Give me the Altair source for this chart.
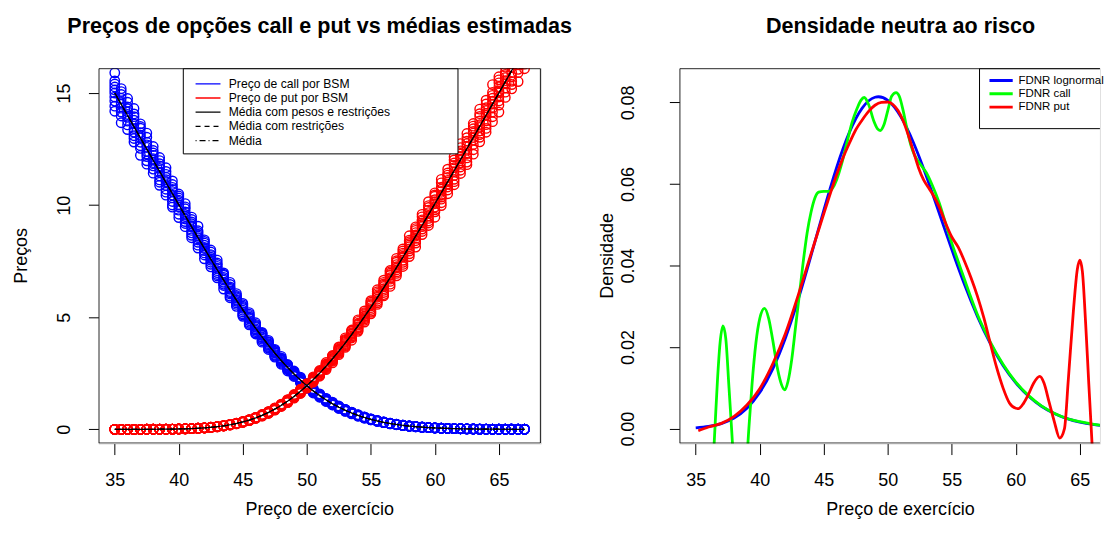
import altair as alt
import pandas as pd

FONT = "Liberation Sans"

# ---------------- data (left panel) ----------------
strikes = [35.0, 35.5, 36.0, 36.5, 37.0, 37.5, 38.0, 38.5, 39.0, 39.5, 40.0, 40.5,
           41.0, 41.5, 42.0, 42.5, 43.0, 43.5, 44.0, 44.5, 45.0, 45.5, 46.0, 46.5,
           47.0, 47.5, 48.0, 48.5, 49.0, 49.5, 50.0, 50.5, 51.0, 51.5, 52.0, 52.5,
           53.0, 53.5, 54.0, 54.5, 55.0, 55.5, 56.0, 56.5, 57.0, 57.5, 58.0, 58.5,
           59.0, 59.5, 60.0, 60.5, 61.0, 61.5, 62.0, 62.5, 63.0, 63.5, 64.0, 64.5,
           65.0, 65.5, 66.0, 66.5, 67.0]

call_prices = [15.000, 14.500, 14.000, 13.501, 13.001, 12.502, 12.003, 11.505, 11.008, 10.511,
               10.016, 9.524, 9.034, 8.548, 8.065, 7.589, 7.119, 6.657, 6.203, 5.761,
               5.329, 4.911, 4.509, 4.123, 3.753, 3.403, 3.070, 2.758, 2.467, 2.196,
               1.945, 1.715, 1.505, 1.313, 1.142, 0.988, 0.850, 0.728, 0.620, 0.526,
               0.444, 0.373, 0.312, 0.260, 0.216, 0.178, 0.146, 0.119, 0.097, 0.079,
               0.063, 0.051, 0.040, 0.032, 0.025, 0.020, 0.016, 0.012, 0.009, 0.007,
               0.005, 0.004, 0.003, 0.002, 0.002]

put_prices = [0.000, 0.000, 0.000, 0.001, 0.001, 0.002, 0.003, 0.005, 0.008, 0.011,
              0.016, 0.024, 0.034, 0.048, 0.065, 0.089, 0.119, 0.157, 0.203, 0.261,
              0.329, 0.411, 0.509, 0.623, 0.753, 0.903, 1.070, 1.258, 1.467, 1.696,
              1.945, 2.215, 2.505, 2.813, 3.142, 3.488, 3.850, 4.228, 4.620, 5.026,
              5.444, 5.873, 6.312, 6.760, 7.216, 7.678, 8.146, 8.619, 9.097, 9.579,
              10.063, 10.551, 11.040, 11.532, 12.025, 12.520, 13.016, 13.512, 14.009, 14.507,
              15.005, 15.504, 16.003, 16.502, 17.002]

noise_rows = [
    [-0.9, -0.4, 0.0, 0.3, 0.6, 1.0, -0.65, 0.15, 0.45, -0.2],
    [-0.6, -0.2, 0.1, 0.5, 0.8, -0.95, 0.3, -0.4, 0.65, 0.0],
    [-0.3, 0.2, 0.45, -0.75, 0.9, 0.05, -0.5, 0.7, -0.1, 0.35],
    [0.7, -0.5, -0.1, 0.35, -0.85, 0.15, 0.55, -0.3, 1.0, -0.65],
    [-1.0, 0.55, -0.25, 0.8, 0.0, -0.6, 0.3, -0.45, 0.15, 0.65],
    [0.4, -0.7, 0.95, -0.15, 0.25, -0.45, 0.7, -0.9, 0.1, -0.3],
    [-0.8, 0.1, 0.6, -0.35, 0.85, 0.3, -0.55, 0.45, -0.15, 0.0],
    [0.2, -0.9, 0.5, -0.05, 0.7, -0.55, 0.35, -0.3, 0.9, -0.7],
    [-0.45, 0.75, -0.65, 0.35, 1.0, -0.2, 0.05, -0.85, 0.55, 0.2],
    [0.9, -0.3, 0.15, -0.8, 0.45, -0.1, -0.55, 0.65, 0.3, -0.95],
    [-0.15, 0.65, -0.95, 0.25, -0.4, 0.8, 0.5, -0.7, 0.0, 0.35],
    [0.55, -0.6, 0.3, 0.95, -0.25, -0.85, 0.1, 0.7, -0.45, -0.05],
    [-0.7, 0.0, 0.8, -0.5, 0.4, 0.1, -0.3, 0.6, -0.9, 0.25],
]
noise_amp = 0.06

estimators = ["Média com pesos e restrições", "Média com restrições", "Média"]

# ---------------- data (right panel) ----------------
dens_x = [35, 36, 37, 38, 39, 40, 41, 42, 43, 44, 45, 46, 47, 48, 49, 50, 51,
          52, 53, 54, 55, 56, 57, 58, 59, 60, 61, 62, 63, 64, 65, 66, 67]
fdnr_lognormal = [0.00021, 0.00054, 0.00124, 0.00261, 0.00501, 0.00887, 0.01454, 0.02217,
                  0.03163, 0.04237, 0.05351, 0.06399, 0.07265, 0.07861, 0.08126, 0.08050,
                  0.07659, 0.07017, 0.06203, 0.05301, 0.04390, 0.03527, 0.02754, 0.02094,
                  0.01552, 0.01124, 0.00795, 0.00550, 0.00373, 0.00248, 0.00162, 0.00104,
                  0.00066]

fdnr_call_x = [35.0, 35.6, 36.0, 36.3, 36.5, 36.7, 36.9, 37.13, 37.35, 37.6, 37.8, 38.0,
               38.5, 38.9, 39.15, 39.4, 39.7, 40.0, 40.37, 40.7, 41.0, 41.4, 41.7, 41.96,
               42.2, 42.5, 42.8, 43.1, 43.4, 43.7, 44.0, 44.3, 44.6, 45.0, 45.4, 45.7,
               46.0, 46.4, 46.8, 47.2, 47.6, 47.9, 48.16, 48.5, 48.9, 49.2, 49.41, 49.7,
               50.0, 50.3, 50.65, 50.9, 51.2, 51.5, 51.8, 52.1, 52.5, 53.0, 53.5, 54.0,
               54.5, 55.0, 55.5, 56.0, 57.0, 58.0, 59.0, 60.0, 61.0, 62.0, 63.0, 64.0,
               65.0, 66.0, 67.0]
fdnr_call_y = [-0.09, -0.05, -0.03, -0.012, 0.0, 0.012, 0.021, 0.0252, 0.022, 0.010, 0.0, -0.010,
               -0.022, -0.012, 0.0, 0.011, 0.021, 0.027, 0.0295, 0.027, 0.022, 0.0145, 0.0108, 0.0095,
               0.0115, 0.017, 0.025, 0.033, 0.041, 0.048, 0.053, 0.0565, 0.058, 0.0582, 0.0582, 0.059,
               0.061, 0.065, 0.070, 0.075, 0.0785, 0.0805, 0.0812, 0.0795, 0.0755, 0.0735, 0.0731, 0.0745,
               0.078, 0.0815, 0.0824, 0.0815, 0.078, 0.0735, 0.0695, 0.067, 0.065, 0.0628, 0.0595, 0.0555,
               0.0505, 0.0455, 0.041, 0.0365, 0.0280, 0.0213, 0.0158, 0.0114, 0.0081, 0.0056, 0.0038, 0.0025,
               0.0017, 0.0011, 0.0007]

fdnr_put_x = [35.2, 36.0, 37.0, 38.0, 39.0, 40.0, 41.0, 42.0, 43.0, 44.0, 45.0, 46.0,
              46.5, 47.0, 47.5, 48.0, 48.5, 49.0, 49.5, 50.0, 50.4, 50.8, 51.2, 51.6,
              52.0, 52.4, 52.8, 53.2, 53.6, 54.0, 54.5, 55.0, 55.5, 56.0, 56.5, 57.0,
              57.5, 58.0, 58.5, 59.0, 59.5, 60.0, 60.2, 60.6, 61.0, 61.4, 61.87, 62.2,
              62.6, 63.0, 63.43, 63.8, 64.1, 64.5, 64.8, 65.0, 65.2, 65.45, 65.7, 65.95,
              66.2, 67.0]
fdnr_put_y = [-0.0005, 0.0004, 0.0013, 0.0030, 0.0058, 0.0098, 0.0158, 0.0233, 0.0327, 0.0428, 0.0527, 0.0622,
              0.0664, 0.0700, 0.0733, 0.0757, 0.0778, 0.0793, 0.0800, 0.0801, 0.0795, 0.0780, 0.0755, 0.0720,
              0.0680, 0.0640, 0.0610, 0.0590, 0.0570, 0.0545, 0.0505, 0.0470, 0.0445, 0.0410, 0.0370, 0.0325,
              0.0272, 0.0210, 0.0150, 0.0100, 0.0063, 0.0050, 0.0049, 0.0062, 0.0085, 0.0112, 0.0128, 0.0112,
              0.0065, 0.0018, -0.0023, 0.0000, 0.0120, 0.0290, 0.0390, 0.0413, 0.0385, 0.0260, 0.0110, -0.0035,
              -0.020, -0.070]

legend_left_labels = ["Preço de call por BSM", "Preço de put por BSM",
                      "Média com pesos e restrições", "Média com restrições", "Média"]
legend_left_colors = ["#0000FF", "#FF0000", "#000000", "#000000", "#000000"]
legend_left_dashes = [[1, 0], [1, 0], [1, 0], [5, 4], [1, 3, 6, 3]]

legend_right_labels = ["FDNR lognormal", "FDNR call", "FDNR put"]
legend_right_colors = ["#0000FF", "#00FF00", "#FF0000"]

title_left = "Preços de opções call e put vs médias estimadas"
title_right = "Densidade neutra ao risco"
xlabel = "Preço de exercício"
ylabel_left = "Preços"
ylabel_right = "Densidade"

# ---------------- tables ----------------
rows = []
for side, prices, shift in (("call", call_prices, 0), ("put", put_prices, 6)):
    for i, k in enumerate(strikes):
        for d in noise_rows[(i + shift) % len(noise_rows)]:
            rows.append({"k": k, "preco": prices[i] * (1 + noise_amp * d), "tipo": side})
scatter = pd.DataFrame(rows)

mean_rows = []
for est in estimators:
    for side, prices in (("call", call_prices), ("put", put_prices)):
        for k, p in zip(strikes, prices):
            mean_rows.append({"k": k, "preco": p, "est": est, "lado": side})
means = pd.DataFrame(mean_rows)

dens_log = pd.DataFrame({"k": dens_x, "d": fdnr_lognormal})
dens_call = pd.DataFrame({"k": fdnr_call_x, "d": fdnr_call_y})
dens_put = pd.DataFrame({"k": fdnr_put_x, "d": fdnr_put_y})

one = pd.DataFrame({"u": [0]})

# ---------------- layout ----------------
PW = 444          # full R plot-region width (px)
PW_R = 422        # visible part of the right panel (the original is cut at the image edge)
PH = 376.7
PXU = 12.847      # px per strike unit
XDOM = [33.72, 68.28]
XDOM_R = [33.72, 33.72 + PW_R / PXU]


def x_axis():
    return alt.Axis(values=[35, 40, 45, 50, 55, 60, 65], title=None,
                    grid=False, domain=False, tickSize=11, tickColor="black", tickWidth=1,
                    labelPadding=31.3, labelBaseline="alphabetic", labelFontSize=18,
                    labelFont=FONT, labelColor="black", labelFlush=False, labelOverlap=False)


def y_axis(values, fmt, pad):
    return alt.Axis(values=values, title=None, format=fmt,
                    grid=False, domain=False, tickSize=10, tickColor="black", tickWidth=1,
                    labelAngle=270, labelAlign="center", labelBaseline="alphabetic",
                    labelPadding=pad, labelFontSize=18, labelFont=FONT, labelColor="black",
                    labelFlush=False, labelOverlap=False)


def frame_layers(title, ytitle, ytitle_x, x2):
    return [
        alt.Chart(one).mark_rect(fillOpacity=0, stroke="black", strokeWidth=1, clip=True).encode(
            x=alt.value(0.5), x2=alt.value(x2), y=alt.value(0.5), y2=alt.value(PH - 0.5)),
        alt.Chart(one).mark_text(text=title, font=FONT, fontSize=21.6, fontWeight="bold",
                                 align="center", baseline="alphabetic", color="black").encode(
            x=alt.value(PW / 2), y=alt.value(-35.3)),
        alt.Chart(one).mark_text(text=xlabel, font=FONT, fontSize=18,
                                 align="center", baseline="alphabetic", color="black").encode(
            x=alt.value(PW / 2), y=alt.value(PH + 72)),
        alt.Chart(one).mark_text(text=ytitle, font=FONT, fontSize=18, angle=270,
                                 align="center", baseline="alphabetic", color="black").encode(
            x=alt.value(ytitle_x), y=alt.value(PH / 2)),
    ]


def legend_layers(labels, colors, dashes, box, y0, dy, lx, tx, fsize, lw):
    layers = [alt.Chart(one).mark_rect(fill="white", stroke="black", strokeWidth=1,
                                       clip=True).encode(
        x=alt.value(box[0]), x2=alt.value(box[1]), y=alt.value(box[2]), y2=alt.value(box[3]))]
    for i, lab in enumerate(labels):
        yy = y0 + i * dy
        layers.append(alt.Chart(one).mark_rule(color=colors[i], strokeWidth=lw,
                                               strokeDash=dashes[i]).encode(
            x=alt.value(lx[0]), x2=alt.value(lx[1]), y=alt.value(yy)))
        layers.append(alt.Chart(one).mark_text(text=lab, align="left", baseline="middle",
                                               font=FONT, fontSize=fsize, color="black").encode(
            x=alt.value(tx), y=alt.value(yy)))
    return layers


# ---------------- left panel ----------------
xl = alt.X("k:Q", scale=alt.Scale(domain=XDOM, nice=False, zero=False), axis=x_axis())
yl = alt.Y("preco:Q", scale=alt.Scale(domain=[-0.636, 16.11], nice=False, zero=False),
           axis=y_axis([0, 5, 10, 15], "d", 19))

pts = alt.Chart(scatter).mark_point(shape="circle", filled=False, size=90, strokeWidth=1.4,
                                    opacity=1, clip=True).encode(
    x=xl, y=yl,
    color=alt.Color("tipo:N", scale=alt.Scale(domain=["call", "put"], range=["#0000FF", "#FF0000"]),
                    legend=None))
lines = alt.Chart(means).mark_line(color="black", strokeWidth=1.2, clip=True).encode(
    x=xl, y=yl, detail="lado:N",
    strokeDash=alt.StrokeDash("est:N", scale=alt.Scale(domain=estimators,
                                                       range=[[1, 0], [5, 4], [1, 3, 6, 3]]),
                              legend=None))

left = alt.layer(
    pts, lines,
    *legend_layers(legend_left_labels, legend_left_colors, legend_left_dashes,
                   [85.2, 360.8, 0.5, 86], 15.7, 14.25, [97.5, 122.5], 130.8, 12.2, 1.3),
    *frame_layers(title_left, ylabel_left, -71.8, PW - 0.5)
).properties(width=PW, height=PH)

# ---------------- right panel ----------------
xr = alt.X("k:Q", scale=alt.Scale(domain=XDOM_R, nice=False, zero=False), axis=x_axis())
yr = alt.Y("d:Q", scale=alt.Scale(domain=[-0.00366, 0.0884], nice=False, zero=False),
           axis=y_axis([0, 0.02, 0.04, 0.06, 0.08], ".2f", 35.7))

l_log = alt.Chart(dens_log).mark_line(color="#0000FF", strokeWidth=2.8, clip=True,
                                      interpolate="natural").encode(x=xr, y=yr)
l_call = alt.Chart(dens_call).mark_line(color="#00FF00", strokeWidth=2.8, clip=True,
                                        interpolate="monotone").encode(x=xr, y=yr)
l_put = alt.Chart(dens_put).mark_line(color="#FF0000", strokeWidth=2.8, clip=True,
                                      interpolate="monotone").encode(x=xr, y=yr)

right = alt.layer(
    l_log, l_call, l_put,
    *legend_layers(legend_right_labels, legend_right_colors, [[1, 0]] * 3,
                   [301.2, PW_R + 1.5, 0.5, 60.7], 12.4, 13.3, [311.2, 334.5], 340.3, 11.5, 2.8),
    *frame_layers(title_right, ylabel_right, -66.5, PW_R + 1.5)
).properties(width=PW_R, height=PH)

chart = alt.hconcat(left, right, spacing=138.9, bounds="flush").properties(
    padding={"left": 3.7, "top": 6.5, "right": 0, "bottom": 0}
).configure_view(strokeWidth=0).configure(background="white")

chart.save("out.html", embed_options={"renderer": "svg", "actions": False})
